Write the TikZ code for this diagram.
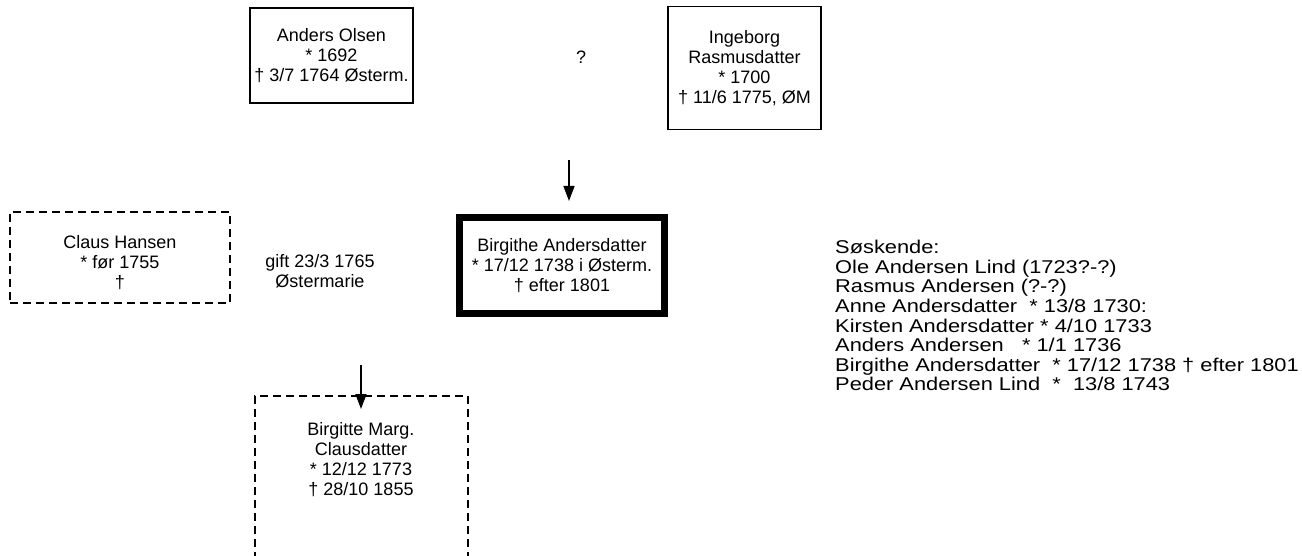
\documentclass[tikz,border=0pt]{standalone}
\usepackage{fontspec}
\setmainfont{Liberation Sans}
\newfontfamily\listfont[FakeStretch=1.18]{Liberation Sans}
\usetikzlibrary{arrows.meta}
\begin{document}
\begin{tikzpicture}[x=1pt,y=-1pt,
  every node/.style={font=\fontsize{18}{20}\selectfont},
  person/.style={draw, line width=1.5pt, rectangle, align=center, inner sep=0pt},
  maybe/.style={person, line width=1.3pt, dash pattern=on 8pt off 5pt},
  mainperson/.style={person, line width=7pt},
  arr/.style={line width=1.5pt, -{Triangle[width=11pt,length=15pt]}},
  plain/.style={align=center, inner sep=0pt},
]
\useasboundingbox (0,0) rectangle (1302,556);
\clip (0,0) rectangle (1302,556);

\node[person, minimum width=163pt, minimum height=95pt] (anders) at (331.5,55.5)
  {Anders Olsen\\* 1692\\† 3/7 1764 Østerm.};
\node[plain] (q) at (581,57) {?};
\node[person, minimum width=153pt, minimum height=123pt] (ingeborg) at (744.5,68)
  {Ingeborg\\Rasmusdatter\\* 1700\\† 11/6 1775, ØM};

\coordinate (a1s) at (569,160);
\coordinate (a1e) at (569,201);
\draw[arr] (a1s) -- (a1e);

\node[maybe, minimum width=220pt, minimum height=91pt] (claus) at (120,257.5)
  {\rule{0pt}{23pt}Claus Hansen\\* før 1755\\†};
\node[plain] (gift) at (320,271.5) {gift 23/3 1765\\Østermarie};
\node[mainperson, minimum width=205pt, minimum height=96pt] (birgithe) at (562,265.5)
  {Birgithe Andersdatter\\* 17/12 1738 i Østerm.\\† efter 1801};

\node[align=left, inner sep=0pt, anchor=north west,
      font=\listfont\fontsize{18.5}{19.6}\selectfont] (soskende) at (835,240)
  {Søskende:\\
   Ole Andersen Lind (1723?-?)\\
   Rasmus Andersen (?-?)\\
   Anne Andersdatter \ * 13/8 1730:\\
   Kirsten Andersdatter * 4/10 1733\\
   Anders Andersen \ \ * 1/1 1736\\
   Birgithe Andersdatter \ * 17/12 1738 † efter 1801\\
   Peder Andersen Lind \ * \ 13/8 1743};

\coordinate (a2s) at (361,365);
\coordinate (a2e) at (361,409);
\draw[arr] (a2s) -- (a2e);

\node[maybe, minimum width=213pt, minimum height=250pt] (barn) at (361.5,521) {};
\node[plain] (barntext) at (361,459.5)
  {Birgitte Marg.\\Clausdatter\\* 12/12 1773\\† 28/10 1855};
\end{tikzpicture}
\end{document}
